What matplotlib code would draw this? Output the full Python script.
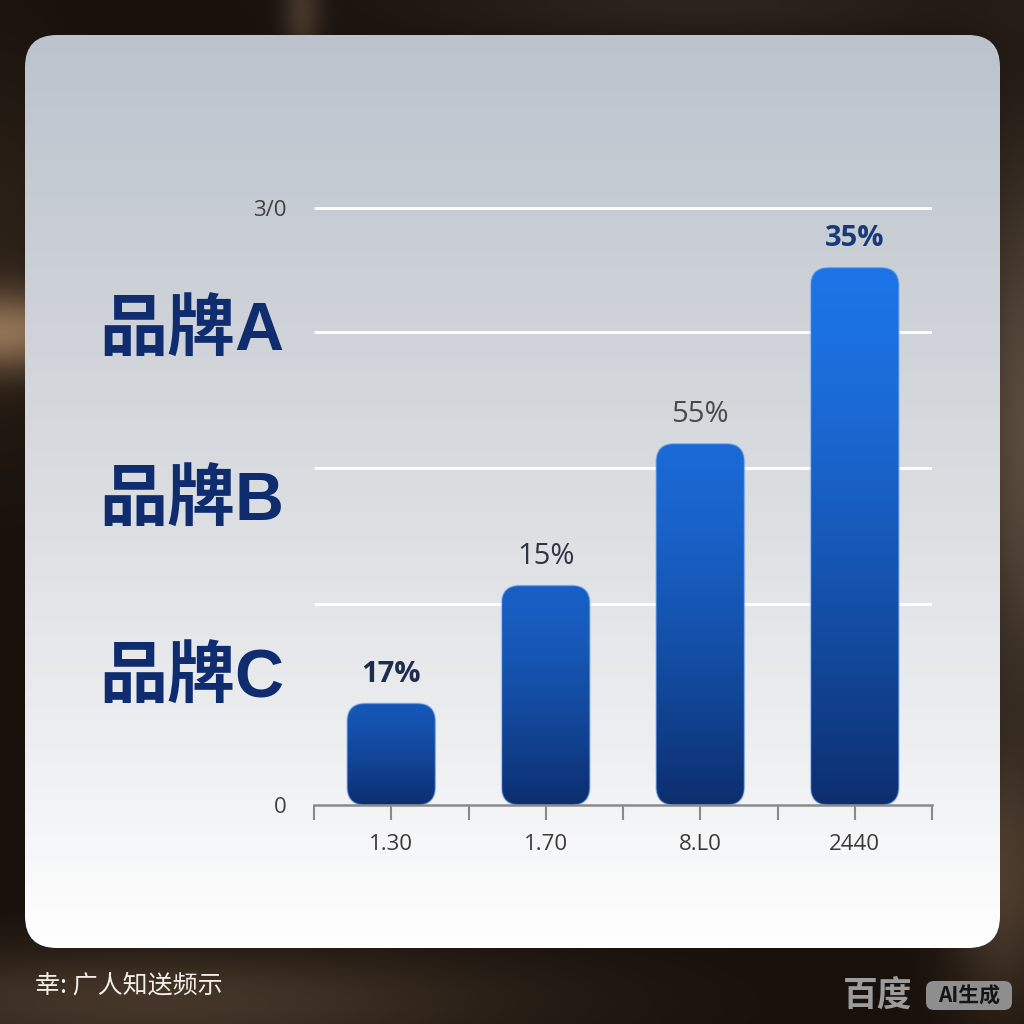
import numpy as np
import matplotlib
matplotlib.use('Agg')
import matplotlib.pyplot as plt
from matplotlib.patches import FancyBboxPatch
from matplotlib.colors import to_rgb

# ---------------- data ----------------
brands = ['品牌A', '品牌B', '品牌C']
x_labels = ['1.30', '1.70', '8.L0', '2440']
values = [6.8, 14.7, 24.2, 36.0]
value_labels = ['17%', '15%', '55%', '35%']
grid_values = [13.5, 22.6, 31.7, 40.0]
y_tick_values = [0, 40.0]
y_tick_labels = ['0', '3/0']
source_text = '幸: 广人知送频示'

# ---------------- styles ----------------
label_colors = ['#1e2c4e', '#2e3440', '#4a4a4a', '#173a7a']
label_weights = ['bold', 'normal', 'normal', 'bold']
brand_y = [333, 503, 680]
CJK = ['Noto Sans CJK SC', 'DejaVu Sans']
BRAND_FONT = ['Liberation Sans', 'Noto Sans CJK SC']
NUM_FONT = ['Open Sans', 'Noto Sans', 'DejaVu Sans']
plt.rcParams['font.family'] = ['Open Sans', 'Noto Sans CJK SC', 'DejaVu Sans']

W = H = 1024
fig = plt.figure(figsize=(10.24, 10.24), dpi=100)

# ---------------- background (pixel coords) ----------------
bg = fig.add_axes([0, 0, 1, 1])
bg.axis('off')
yy, xx = np.mgrid[0:H:4, 0:W:4].astype(float)
base = np.array(to_rgb('#17100b'))
img = np.ones(xx.shape + (3,)) * base


def blob(cx, cy, sx, sy, color, strength):
    g = np.exp(-(((xx - cx) / sx) ** 2 + ((yy - cy) / sy) ** 2) / 2)[..., None]
    return g * strength * (np.array(to_rgb(color)) - base)


img += blob(0, 330, 70, 28, '#8a6e52', 0.9)
img += blob(0, 250, 50, 140, '#3a2c20', 0.6)
img += blob(300, 10, 14, 40, '#5a4838', 0.6)
img += blob(700, 0, 220, 30, '#3a3028', 0.6)
img += blob(1024, 430, 40, 200, '#6a5a4a', 0.8)
img += blob(150, 1000, 260, 40, '#4a3a2c', 0.9)
img += blob(1000, 880, 40, 90, '#6a5440', 0.6)
img = np.clip(img, 0, 1)
bg.imshow(img, extent=[0, W, H, 0], interpolation='bilinear', zorder=0)

# card with vertical gradient
card = FancyBboxPatch((25, 35), 975, 913, boxstyle='round,pad=0,rounding_size=32',
                      fc='none', ec='none', zorder=1)
bg.add_patch(card)
stops_y = np.array([35, 450, 750, 948])
stops_c = np.array([to_rgb(c) for c in ['#bcc3cd', '#d7dade', '#eeeff1', '#ffffff']])
ys = np.linspace(35, 948, 400)
grad = np.stack([np.interp(ys, stops_y, stops_c[:, k]) for k in range(3)], axis=-1)[:, None, :]
cim = bg.imshow(grad, extent=[25, 1000, 948, 35], aspect='auto', interpolation='bilinear', zorder=1)
cim.set_clip_path(card)
bg.set_xlim(0, W)
bg.set_ylim(H, 0)

# brand labels
for b, y in zip(brands, brand_y):
    bg.text(99, y, b, ha='left', va='center', fontsize=49, weight='bold',
            color='#0f2d6e', family=BRAND_FONT, zorder=3)

# footer
bg.text(35, 986, source_text, ha='left', va='center', fontsize=18, color='#f2eee8',
        family=CJK, zorder=3)
bg.text(843, 995, '百度', ha='left', va='center', fontsize=25, weight='bold',
        color='#9c9c9c', family=CJK, zorder=3)
wm = FancyBboxPatch((926, 981), 86, 29, boxstyle='round,pad=0,rounding_size=8',
                    fc='#8e8e8e', ec='none', zorder=3)
bg.add_patch(wm)
bg.text(969, 996, 'AI生成', ha='center', va='center', fontsize=15, weight='bold',
        color='#141414', family=CJK, zorder=4)

# ---------------- chart axes ----------------
ppu = 597 / 40.0  # pixels per y unit
ax = fig.add_axes([314 / W, 1 - 805 / H, 618 / W, 625 / H])
ax.patch.set_alpha(0)
ymax = 625 / ppu
for s in ['top', 'right', 'left']:
    ax.spines[s].set_visible(False)
ax.spines['bottom'].set_color('#8a8a8a')
ax.spines['bottom'].set_linewidth(1.8)
ax.spines['bottom'].set_zorder(5)

ax.hlines(grid_values, 0, 4, color='white', lw=2, zorder=1)

xt = np.arange(0, 4.01, 0.5)
xt_labels = []
k = 0
for i in range(len(xt)):
    if i % 2 == 1:
        xt_labels.append(x_labels[k]); k += 1
    else:
        xt_labels.append('')
ax.set_xticks(xt, xt_labels)
ax.tick_params(axis='x', length=11, width=1.5, color='#8a8a8a', pad=10,
               labelsize=16, labelcolor='#3a3a3a')
ax.set_yticks(y_tick_values, y_tick_labels)
ax.tick_params(axis='y', length=0, pad=20, labelsize=16, labelcolor='#404040')

bar_w = 0.57
xpx = 618 / 4.0
r = 18 / xpx
asp = xpx / ppu
vmax = max(values)
bright = np.array(to_rgb('#1d74e6'))
dimtop = np.array(to_rgb('#1248a0'))
bottom_c = np.array(to_rgb('#0c2e6e'))
for i, v in enumerate(values):
    xc = i + 0.5
    patch = FancyBboxPatch((xc - bar_w / 2, 0), bar_w, v,
                           boxstyle=f'round,pad=0,rounding_size={r}',
                           mutation_aspect=asp, fc='none',
                           ec=(0.35, 0.6, 0.95, 0.45), lw=1.2, zorder=3)
    ax.add_patch(patch)
    t = (v / vmax) ** 0.7
    top_c = dimtop + (bright - dimtop) * t
    f = np.linspace(0, 1, 256)[:, None] ** 1.4
    g = (top_c[None, :] * (1 - f) + bottom_c[None, :] * f)[:, None, :]
    im = ax.imshow(g, extent=[xc - bar_w / 2, xc + bar_w / 2, 0, v], aspect='auto',
                   interpolation='bilinear', zorder=2)
    im.set_clip_path(patch)
    ax.annotate(value_labels[i], (xc, v), xytext=(0, 21), textcoords='offset points',
                ha='center', va='center', fontsize=21, color=label_colors[i],
                weight=label_weights[i], family=NUM_FONT, zorder=4)

ax.set_xlim(0, 4)
ax.set_ylim(0, ymax)

fig.savefig('out.png', dpi=100)
